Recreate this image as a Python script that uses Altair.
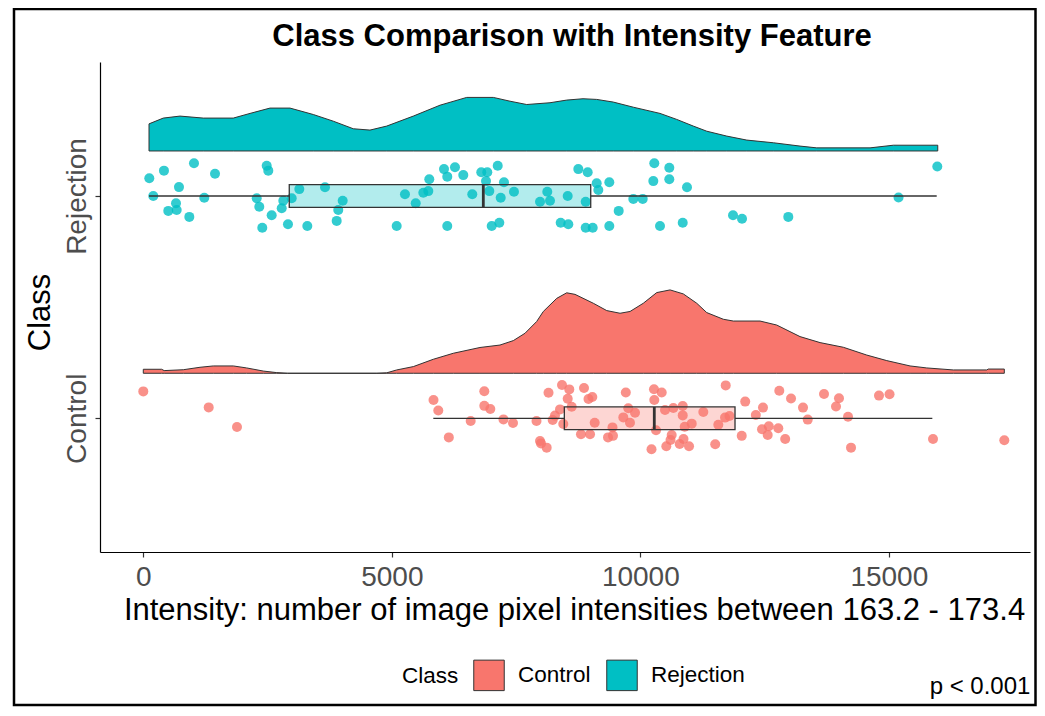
import altair as alt
import pandas as pd

# ---------------- data ----------------
classes = ["Control", "Rejection"]
class_colors = ["#F8766D", "#00BFC4"]
class_rows = [1, 2]

title_text = ["Class Comparison with Intensity Feature"]
p_label = ["p < 0.001"]
x_ticks = [0, 5000, 10000, 15000]

# jittered observations: intensity and vertical jitter (in row units)
ctl_x = [0, 1316, 1885, 5839, 5935, 6147, 6587, 6861, 6861, 6982,
         7247, 7438, 7911, 8153, 7982, 8002, 8116, 8237, 8283, 8384,
         8424, 8571, 8539, 8619, 8450, 8867, 8957, 9034, 9082, 8806,
         8988, 9350, 9440, 9450, 9708, 9758, 9658, 9792, 9893, 10275,
         10430, 10281, 10225, 10316, 10497, 10664, 10853, 10853, 10631, 10607,
         10523, 10792, 10869, 10980, 10893, 11034, 11267, 11507, 11569, 11704,
         11794, 11718, 12110, 12040, 12324, 12468, 12448, 12563, 12585, 12776,
         12796, 13032, 12915, 13273, 13368, 13696, 13997, 13937, 14179, 14239,
         14802, 15014, 15889, 17323]
ctl_jit = [0.121, 0.049, -0.039, 0.082, 0.035, -0.086, -0.012, 0.122, 0.056, 0.042,
           -0.005, -0.021, -0.012, 0.115, -0.102, -0.113, -0.132, -0.008, 0.012, 0.040,
           0.150, 0.130, 0.088, 0.052, -0.026, 0.136, 0.087, 0.096, -0.020, -0.072,
           -0.072, -0.086, -0.041, -0.079, 0.116, 0.045, 0.004, -0.020, 0.025, 0.131,
           0.116, 0.082, -0.139, -0.054, 0.037, 0.046, 0.055, 0.013, -0.075, -0.098,
           -0.126, -0.116, -0.093, -0.126, -0.038, -0.024, 0.028, -0.117, -0.029, 0.003,
           0.010, 0.148, 0.075, -0.079, 0.015, 0.048, -0.049, -0.075, -0.036, -0.045,
           0.124, 0.089, -0.093, 0.048, -0.006, 0.109, 0.090, 0.053, 0.007, -0.132,
           0.102, 0.108, -0.093, -0.099]

rej_x = [121, 416, 1020, 1443, 718, 201, 658, 672, 503, 1227,
         926, 2483, 2515, 2282, 2334, 2583, 2394, 2785, 2817, 2986,
         2911, 3300, 3139, 3656, 4012, 3923, 3891, 5098, 5265, 5481,
         5634, 5734, 5754, 6050, 6271, 6116, 6438, 6116, 6619, 6800,
         6921, 7131, 6895, 7257, 6962, 7191, 7458, 7010, 7163, 7982,
         8128, 8183, 8539, 8398, 8551, 8752, 8941, 8901, 8901, 9042,
         9122, 9155, 9376, 9376, 9565, 9859, 10048, 10281, 10583, 10261,
         10583, 10396, 10939, 10853, 11865, 12046, 12977, 15195, 15975]
rej_jit = [0.080, 0.114, 0.147, 0.100, 0.040, 0.000, -0.033, -0.063, -0.067, -0.008,
           -0.094, 0.136, 0.114, -0.010, -0.048, -0.087, -0.143, -0.055, -0.021, -0.010,
           -0.127, -0.135, 0.031, 0.039, -0.021, -0.063, -0.112, -0.135, 0.008, -0.033,
           0.015, 0.022, 0.075, 0.121, 0.129, 0.087, 0.094, -0.135, 0.008, 0.107,
           0.107, 0.136, 0.067, 0.062, 0.022, -0.008, 0.019, -0.135, -0.120, -0.026,
           0.019, -0.021, 0.000, -0.120, -0.127, 0.121, 0.107, -0.026, -0.143, -0.143,
           0.057, 0.027, 0.062, -0.135, -0.067, -0.013, -0.013, 0.147, 0.127, 0.067,
           0.075, -0.135, 0.039, -0.120, -0.087, -0.102, -0.094, -0.007, 0.133]

# half-violin (density) outline: intensity and height (row units)
ctl_dens_x = [0, 370, 420, 805, 1141, 1408, 1811, 2080, 2414, 2684,
              2900, 4700, 4897, 5099, 5433, 5835, 6237, 6774, 7177, 7445,
              7680, 7915, 8048, 8318, 8519, 8686, 9054, 9324, 9592, 9793,
              10060, 10330, 10598, 10865, 11135, 11336, 11670, 11871, 12408, 12744,
              13213, 13616, 14085, 14555, 14958, 15427, 15763, 16298, 16970, 17000,
              17323]
ctl_dens = [0.018, 0.018, 0.012, 0.016, 0.027, 0.033, 0.033, 0.024, 0.010, 0.003,
            0.0, 0.0, 0.002, 0.015, 0.030, 0.063, 0.090, 0.116, 0.127, 0.147,
            0.180, 0.233, 0.278, 0.337, 0.362, 0.355, 0.315, 0.282, 0.270, 0.278,
            0.315, 0.363, 0.375, 0.357, 0.315, 0.273, 0.243, 0.235, 0.235, 0.217,
            0.165, 0.138, 0.117, 0.082, 0.057, 0.033, 0.024, 0.015, 0.015, 0.019,
            0.019]
rej_dens_x = [115, 402, 738, 1207, 1811, 2147, 2549, 2952, 3421, 3823,
              4225, 4561, 4897, 5433, 5970, 6507, 7042, 7378, 7714, 8183,
              8519, 8847, 9122, 9457, 9859, 10396, 10732, 11066, 11336, 11738,
              12141, 12676, 13213, 13549, 14622, 15091, 15984]
rej_dens = [0.122, 0.148, 0.157, 0.148, 0.148, 0.169, 0.193, 0.193, 0.164, 0.134,
            0.100, 0.094, 0.112, 0.157, 0.206, 0.241, 0.241, 0.224, 0.209, 0.217,
            0.229, 0.235, 0.232, 0.220, 0.197, 0.169, 0.142, 0.112, 0.089, 0.067,
            0.049, 0.037, 0.022, 0.014, 0.014, 0.026, 0.026]

# boxplot statistics (Control, Rejection)
box_low = [5835, 115]
box_q1 = [8471, 2937]
box_med = [10281, 6841]
box_q3 = [11905, 9002]
box_high = [15875, 15963]

# ---------------- layout / style constants ----------------
CLOUD_GAP = 0.2025     # violin baseline above the row
BOX_HALF = 0.051       # half height of the box
FONT = "Liberation Sans"
DARK = "#333333"

# ---------------- tables ----------------
pts_rows, dens_rows, box_rows, wh_rows, med_rows = [], [], [], [], []
obs = {"Control": (ctl_x, ctl_jit), "Rejection": (rej_x, rej_jit)}
dens = {"Control": (ctl_dens_x, ctl_dens), "Rejection": (rej_dens_x, rej_dens)}
for i, c in enumerate(classes):
    r = class_rows[i]
    for xv, j in zip(*obs[c]):
        pts_rows.append({"Class": c, "x": xv, "y": r + j})
    for xv, d in zip(*dens[c]):
        dens_rows.append({"Class": c, "x": xv, "y": r + CLOUD_GAP + d, "y2": r + CLOUD_GAP})
    box_rows.append({"Class": c, "x": box_q1[i], "x2": box_q3[i],
                     "y": r - BOX_HALF, "y2": r + BOX_HALF})
    wh_rows.append({"Class": c, "x": box_low[i], "x2": box_q1[i], "y": r})
    wh_rows.append({"Class": c, "x": box_q3[i], "x2": box_high[i], "y": r})
    med_rows.append({"Class": c, "x": box_med[i], "y": r - BOX_HALF, "y2": r + BOX_HALF})

pts_df = pd.DataFrame(pts_rows)
dens_df = pd.DataFrame(dens_rows)
box_df = pd.DataFrame(box_rows)
wh_df = pd.DataFrame(wh_rows)
med_df = pd.DataFrame(med_rows)

# ---------------- encodings ----------------
X = alt.X("x:Q",
          scale=alt.Scale(domain=[-871, 17840], nice=False, zero=False),
          axis=alt.Axis(values=x_ticks, format="d", grid=False,
                        domainColor="black", domainWidth=1.2,
                        tickColor=DARK, tickWidth=1.2, tickSize=5,
                        labelFontSize=28, labelColor="#4D4D4D", labelPadding=6,
                        labelFont=FONT, labelFlush=False,
                        titleFont=FONT, titleFontSize=31, titleFontWeight="normal",
                        titleColor="black", titleX=474, titleY=67,
                        titleAlign="center", titleBaseline="alphabetic"),
          title="Intensity: number of image pixel intensities between 163.2 - 173.4")
Y = alt.Y("y:Q",
          scale=alt.Scale(domain=[0.3985, 2.6028], nice=False, zero=False),
          axis=alt.Axis(values=class_rows,
                        labelExpr="datum.value == 1 ? 'Control' : 'Rejection'",
                        grid=False, domainColor="black", domainWidth=1.2,
                        tickColor=DARK, tickWidth=1.2, tickSize=5,
                        labelAngle=270, labelAlign="center", labelBaseline="alphabetic",
                        labelFontSize=28, labelColor="#4D4D4D", labelPadding=10,
                        labelFont=FONT,
                        titleFont=FONT, titleFontSize=31, titleFontWeight="normal",
                        titleColor="black", titleAngle=270, titleX=-60, titleY=250,
                        titleAlign="center", titleBaseline="middle"),
          title="Class")
C = alt.Color("Class:N",
              scale=alt.Scale(domain=classes, range=class_colors),
              legend=alt.Legend(title="Class", orient="none", legendX=302, legendY=597,
                                direction="horizontal", titleOrient="left",
                                symbolType="square", symbolSize=930,
                                symbolStrokeColor=DARK, symbolStrokeWidth=1,
                                symbolOpacity=1, labelFont=FONT, titleFont=FONT,
                                labelFontSize=22.5, titleFontSize=22.5,
                                titleFontWeight="normal", labelColor="black",
                                titleColor="black", columnPadding=13, labelOffset=13,
                                titlePadding=14, titleAnchor="middle",
                                titleBaseline="middle", padding=0))

density = alt.Chart(dens_df).mark_area(
    orient="vertical", stroke=DARK, strokeWidth=1, opacity=1
).encode(x=X, y=Y, y2="y2:Q", color=C)

points = alt.Chart(pts_df).mark_circle(size=100, opacity=0.8).encode(x=X, y=Y, color=C)

boxes = alt.Chart(box_df).mark_rect(
    fillOpacity=0.3, stroke=DARK, strokeWidth=1.3
).encode(x=X, x2="x2:Q", y=Y, y2="y2:Q", color=C)

whiskers = alt.Chart(wh_df).mark_rule(color=DARK, strokeWidth=1.3).encode(
    x=X, x2="x2:Q", y=Y)

medians = alt.Chart(med_df).mark_rule(color=DARK, strokeWidth=2.8).encode(
    x=X, y=Y, y2="y2:Q")

title_mark = alt.Chart(pd.DataFrame({"t": title_text})).mark_text(
    font=FONT, fontSize=31, fontWeight="bold", color="black",
    align="center", baseline="alphabetic"
).encode(x=alt.value(472), y=alt.value(-16), text="t:N")

p_mark = alt.Chart(pd.DataFrame({"t": p_label})).mark_text(
    font=FONT, fontSize=24, color="black", align="center", baseline="middle"
).encode(x=alt.value(880), y=alt.value(625), text="t:N")

frame = alt.Chart(pd.DataFrame({"f": [0]})).mark_rect(
    fillOpacity=0, stroke="black", strokeWidth=2.5
).encode(x=alt.value(-86), x2=alt.value(935.5), y=alt.value(-53), y2=alt.value(643))

chart = alt.layer(
    density, points, boxes, whiskers, medians, title_mark, p_mark, frame
).properties(
    width=930, height=490,
    padding={"left": 92, "top": 54, "right": 7, "bottom": 156},
    autosize=alt.AutoSizeParams(type="none"),
).configure(font=FONT, view=alt.ViewConfig(stroke=None))

chart.save("out.html", embed_options={"renderer": "svg", "actions": False})
